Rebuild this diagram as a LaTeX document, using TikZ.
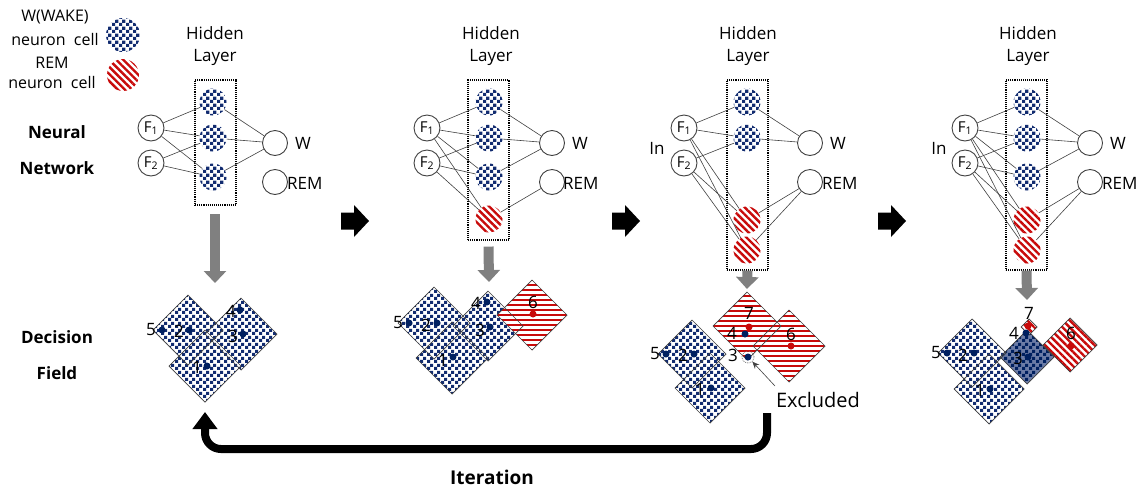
\documentclass[tikz,border=0pt]{standalone}
\usepackage{fontspec}
\setmainfont{Open Sans}
\usetikzlibrary{patterns.meta,arrows.meta}
\definecolor{navy}{RGB}{0,32,96}
\definecolor{checkblue}{RGB}{18,44,112}
\definecolor{remred}{RGB}{200,10,10}
\definecolor{linec}{RGB}{64,64,64}
\definecolor{arrgray}{RGB}{128,128,128}
\tikzdeclarepattern{
  name=wcheck,
  type=uncolored,
  bottom left={(0pt,0pt)},
  top right={(7pt,7pt)},
  tile size={(7pt,7pt)},
  code={
    \pgfpathrectangle{\pgfpointorigin}{\pgfpoint{3.5pt}{3.5pt}}
    \pgfpathrectangle{\pgfpoint{3.5pt}{3.5pt}}{\pgfpoint{3.5pt}{3.5pt}}
    \pgfusepath{fill}
  }
}
\newcommand{\mydiam}[4]{\path[#1] (#2,#3) ++(0,-#4) -- ++(#4,#4) -- ++(-#4,#4) -- ++(-#4,-#4) -- cycle;}
% red square with horizontal stripes, drawn by clipping
\newcommand{\rstripe}[3]{%
  \begin{scope}
    \clip (#1,#2) ++(0,-#3) -- ++(#3,#3) -- ++(-#3,#3) -- ++(-#3,-#3) -- cycle;
    \fill[white] ({#1-#3},{#2-#3}) rectangle ({#1+#3},{#2+#3});
    \foreach \k in {-9,...,9} {\fill[remred] ({#1-#3},{#2+5*\k-1.25}) rectangle ({#1+#3},{#2+5*\k+1.25});}
  \end{scope}}
\tikzset{
  lbl/.style={font=\fontsize{17}{22}\selectfont, inner sep=0pt, align=center},
  lgl/.style={font=\fontsize{16}{20}\selectfont, inner sep=0pt},
  blbl/.style={font=\bfseries\fontsize{17}{22}\selectfont, inner sep=0pt},
  fin/.style={circle, draw=linec, line width=0.9pt, minimum size=26pt, inner sep=0pt, font=\fontsize{15}{15}\selectfont},
  fout/.style={circle, draw=linec, line width=0.9pt, minimum size=25pt, inner sep=0pt},
  wcell/.style={circle, minimum size=27pt, inner sep=0pt, preaction={fill=white}, pattern=wcheck, pattern color=checkblue},
  rcell/.style={circle, minimum size=27pt, inner sep=0pt, preaction={fill=white}, pattern={Lines[angle=-45,distance=5pt,line width=2.4pt]}, pattern color=remred},
  conn/.style={draw=linec, line width=0.6pt},
  hbox/.style={draw=black, densely dotted, line width=1.1pt, inner sep=0pt},
  wsq/.style={preaction={fill=white}, pattern=wcheck, pattern color=checkblue},
  dsq/.style={preaction={fill=checkblue!62!white}, pattern=wcheck, pattern color=navy},
  rsqd/.style={preaction={fill=white}, pattern={Lines[angle=-45,distance=5pt,line width=2.4pt]}, pattern color=remred},
  sqline/.style={draw=linec, line width=0.7pt},
  bdot/.style={circle, fill=navy, minimum size=7pt, inner sep=0pt},
  rdot/.style={circle, fill=remred, minimum size=7pt, inner sep=0pt},
  num/.style={font=\fontsize{17}{17}\selectfont, inner sep=0pt},
  garrow/.style={draw=arrgray, line width=10pt, -{Triangle[width=22pt,length=12pt]}},
  barrow/.style={fill=black},
}
\begin{document}
\begin{tikzpicture}[x=1pt,y=-1pt]
\useasboundingbox (0,0) rectangle (1145,488);

% ---------- legend ----------
\node[lgl] (lg1) at (55,17) {W(WAKE)};
\node[lgl] (lg2) at (55,39) {neuron\ \ cell};
\node[lgl] (lg3) at (52,63) {REM};
\node[lgl] (lg4) at (52,82) {neuron\ \ cell};
\node[wcell, minimum size=34pt] (lgw) at (123,35) {};
\node[rcell, minimum size=32pt] (lgr) at (123,75) {};

% ---------- row labels ----------
\node[blbl] (rl1) at (57,132) {Neural};
\node[blbl] (rl2) at (57,168) {Network};
\node[blbl] (rl3) at (57,337) {Decision};
\node[blbl] (rl4) at (57,373) {Field};

% ================= panel 1 =================
\node[lbl] (t1) at (215,46) {Hidden\\Layer};
\node[hbox, minimum width=41pt, minimum height=125pt] (b1) at (215.5,142.5) {};
\node[fin] (p1f1) at (151,128) {F\textsubscript{1}};
\node[fin] (p1f2) at (151,163) {F\textsubscript{2}};
\node[wcell] (p1h1) at (213,102) {};
\node[wcell] (p1h2) at (213,138) {};
\node[wcell] (p1h3) at (213,177) {};
\node[fout] (p1w) at (275,143) {};
\node[fout] (p1r) at (275,182) {};
\node[lbl, anchor=west] (p1wl) at (295,143) {W};
\node[lbl, anchor=west] (p1rl) at (287,183) {REM};
\foreach \h in {1,2,3} {\draw[conn] (p1f1) -- (p1h\h); \draw[conn] (p1h\h) -- (p1w);}
\foreach \h in {2,3} {\draw[conn] (p1f2) -- (p1h\h);}
\coordinate (g1) at (215,283);
\draw[garrow] (215,214) -- (g1);

% field 1
\mydiam{wsq}{188}{330}{35}
\mydiam{wsq}{241}{334}{36}
\mydiam{wsq}{205}{366}{36}
\mydiam{sqline}{188}{330}{35}
\mydiam{sqline}{241}{334}{36}
\mydiam{sqline}{205}{366}{36}
\node[bdot] (d1n5) at (162,330) {}; \node[num] (l1n5) at (151,330) {5};
\node[bdot] (d1n2) at (189,330) {}; \node[num] (l1n2) at (179,331) {2};
\node[bdot] (d1n4) at (240,310) {}; \node[num] (l1n4) at (231,311) {4};
\node[bdot] (d1n3) at (243,334) {}; \node[num] (l1n3) at (233,336) {3};
\node[bdot] (d1n1) at (207,366) {}; \node[num] (l1n1) at (197,367) {1};

% ================= panel 2 =================
\node[lbl] (t2) at (491,46) {Hidden\\Layer};
\node[hbox, minimum width=41pt, minimum height=160pt] (b2) at (488.5,160) {};
\node[fin] (p2f1) at (427,128) {F\textsubscript{1}};
\node[fin] (p2f2) at (427,163) {F\textsubscript{2}};
\node[wcell] (p2h1) at (489,102) {};
\node[wcell] (p2h2) at (489,138) {};
\node[wcell] (p2h3) at (489,177) {};
\node[rcell] (p2h4) at (489,219) {};
\node[fout] (p2w) at (552,143) {};
\node[fout] (p2r) at (552,182) {};
\node[lbl, anchor=west] (p2wl) at (572,143) {W};
\node[lbl, anchor=west] (p2rl) at (563,183) {REM};
\foreach \h in {1,2,3,4} {\draw[conn] (p2f1) -- (p2h\h);}
\foreach \h in {2,3,4} {\draw[conn] (p2f2) -- (p2h\h);}
\foreach \h in {1,2,3} {\draw[conn] (p2h\h) -- (p2w);}
\draw[conn] (p2h4) -- (p2r);
\draw[garrow] (b2.south) ++(0,6) coordinate (g2s) (g2s) -- (489,282);

% field 2
\mydiam{wsq}{434}{323}{36}
\mydiam{wsq}{488}{326}{35}
\mydiam{wsq}{452}{358}{36}
\rstripe{532}{315}{35}
\mydiam{sqline}{434}{323}{36}
\mydiam{sqline}{488}{326}{35}
\mydiam{sqline}{452}{358}{36}
\mydiam{sqline}{532}{315}{35}
\node[bdot] (d2n5) at (409,323) {}; \node[num] (l2n5) at (398,323) {5};
\node[bdot] (d2n2) at (437,323) {}; \node[num] (l2n2) at (426,325) {2};
\node[bdot] (d2n4) at (487,302) {}; \node[num] (l2n4) at (476,303) {4};
\node[bdot] (d2n3) at (490,327) {}; \node[num] (l2n3) at (480,330) {3};
\node[bdot] (d2n1) at (453,357) {}; \node[num] (l2n1) at (443,360) {1};
\node[rdot] (d2n6) at (533,314) {}; \node[num] (l2n6) at (533,302) {6};

% ================= panel 3 =================
\node[lbl] (t3) at (748,46) {Hidden\\Layer};
\node[hbox, minimum width=41pt, minimum height=190pt] (b3) at (747.5,175) {};
\node[lbl] (in3) at (657,148) {In};
\node[fin] (p3f1) at (684,128) {F\textsubscript{1}};
\node[fin] (p3f2) at (684,163) {F\textsubscript{2}};
\node[wcell] (p3h1) at (747,102) {};
\node[wcell] (p3h2) at (747,138) {};
\node[rcell] (p3h4) at (747,220) {};
\node[rcell] (p3h5) at (747,250) {};
\node[fout] (p3w) at (810,143) {};
\node[fout] (p3r) at (810,182) {};
\node[lbl, anchor=west] (p3wl) at (830,143) {W};
\node[lbl, anchor=west] (p3rl) at (822,183) {REM};
\foreach \h in {1,2,4,5} {\draw[conn] (p3f1) -- (p3h\h);}
\foreach \h in {2,4,5} {\draw[conn] (p3f2) -- (p3h\h);}
\foreach \h in {1,2} {\draw[conn] (p3h\h) -- (p3w);}
\foreach \h in {4,5} {\draw[conn] (p3h\h) -- (p3r);}
\draw[garrow] (b3.south) -- (747,289);

% field 3
\mydiam{wsq}{692}{354}{34}
\mydiam{wsq}{710}{388}{35}
\rstripe{789}{346}{36}
\rstripe{747}{326}{34}
\mydiam{sqline}{692}{354}{34}
\mydiam{sqline}{710}{388}{35}
\mydiam{sqline}{789}{346}{36}
\mydiam{sqline}{747}{326}{34}
\node[rdot] (d3n7) at (749,327) {}; \node[num] (l3n7) at (749,313) {7};
\node[bdot] (d3n4) at (745,334) {}; \node[num] (l3n4) at (732,333) {4};
\node[circle, draw=arrgray, densely dotted, line width=0.8pt, minimum size=12pt, inner sep=0pt] (x3) at (748,357) {};
\node[bdot] (d3n3) at (748,357) {}; \node[num] (l3n3) at (733,355) {3};
\node[bdot] (d3n5) at (666,354) {}; \node[num] (l3n5) at (655,354) {5};
\node[bdot] (d3n2) at (694,354) {}; \node[num] (l3n2) at (683,355) {2};
\node[bdot] (d3n1) at (711,388) {}; \node[num] (l3n1) at (700,389) {1};
\node[rdot] (d3n6) at (791,346) {}; \node[num] (l3n6) at (791,334) {6};
\node[font=\fontsize{20}{20}\selectfont, inner sep=0pt] (exc) at (818,400) {Excluded};
\coordinate (exs) at (775,386);
\draw[conn, -{Stealth[length=7pt,width=6pt]}] (exs) -- (x3);

% ================= panel 4 =================
\node[lbl] (t4) at (1028,46) {Hidden\\Layer};
\node[hbox, minimum width=41pt, minimum height=190pt] (b4) at (1026.5,175) {};
\node[lbl] (in4) at (939,148) {In};
\node[fin] (p4f1) at (965,128) {F\textsubscript{1}};
\node[fin] (p4f2) at (965,163) {F\textsubscript{2}};
\node[wcell] (p4h1) at (1027,102) {};
\node[wcell] (p4h2) at (1027,138) {};
\node[wcell] (p4h3) at (1027,177) {};
\node[rcell] (p4h4) at (1027,220) {};
\node[rcell] (p4h5) at (1027,250) {};
\node[fout] (p4w) at (1090,143) {};
\node[fout] (p4r) at (1090,182) {};
\node[lbl, anchor=west] (p4wl) at (1110,143) {W};
\node[lbl, anchor=west] (p4rl) at (1102,183) {REM};
\foreach \h in {1,2,3,4,5} {\draw[conn] (p4f1) -- (p4h\h);}
\foreach \h in {2,3,4,5} {\draw[conn] (p4f2) -- (p4h\h);}
\foreach \h in {1,2,3} {\draw[conn] (p4h\h) -- (p4w);}
\foreach \h in {4,5} {\draw[conn] (p4h\h) -- (p4r);}
\draw[garrow] (b4.south) -- (1027,300);

% field 4
\mydiam{wsq}{972}{353}{34}
\mydiam{wsq}{989}{389}{35}
\mydiam{dsq}{1027}{357}{27}
\mydiam{rsqd}{1070}{345}{27}
\mydiam{rsqd}{1029}{327}{8}
\mydiam{sqline}{972}{353}{34}
\mydiam{sqline}{989}{389}{35}
\mydiam{sqline}{1027}{357}{27}
\mydiam{sqline}{1070}{345}{27}
\mydiam{sqline}{1029}{327}{8}
\node[rdot] (d4n7) at (1028,326) {}; \node[num] (l4n7) at (1029,313) {7};
\node[bdot] (d4n4) at (1026,333) {}; \node[num] (l4n4) at (1014,333) {4};
\node[bdot] (d4n3) at (1028,357) {}; \node[num] (l4n3) at (1018,358) {3};
\node[bdot] (d4n5) at (947,353) {}; \node[num] (l4n5) at (936,353) {5};
\node[bdot] (d4n2) at (974,353) {}; \node[num] (l4n2) at (963,355) {2};
\node[bdot] (d4n1) at (990,389) {}; \node[num] (l4n1) at (980,390) {1};
\node[rdot] (d4n6) at (1071,346) {}; \node[num] (l4n6) at (1071,333) {6};

% ---------- block arrows between panels ----------
\foreach \x in {341,612,878} {
  \fill[barrow] (\x,212.5) -- (\x+13,212.5) -- (\x+13,205) -- (\x+28,221) -- (\x+13,237) -- (\x+13,229.5) -- (\x,229.5) -- cycle;
}

% ---------- iteration ----------
\coordinate (its) at (767,413);
\coordinate (ite) at (205,412);
\draw[line width=8pt, rounded corners=16pt, -{Triangle[width=24pt,length=17pt]}] (its) -- (767,449) -- (205,449) -- (ite);
\node[font=\bfseries\fontsize{19}{19}\selectfont, inner sep=0pt] (itl) at (492,477) {Iteration};
\end{tikzpicture}
\end{document}
